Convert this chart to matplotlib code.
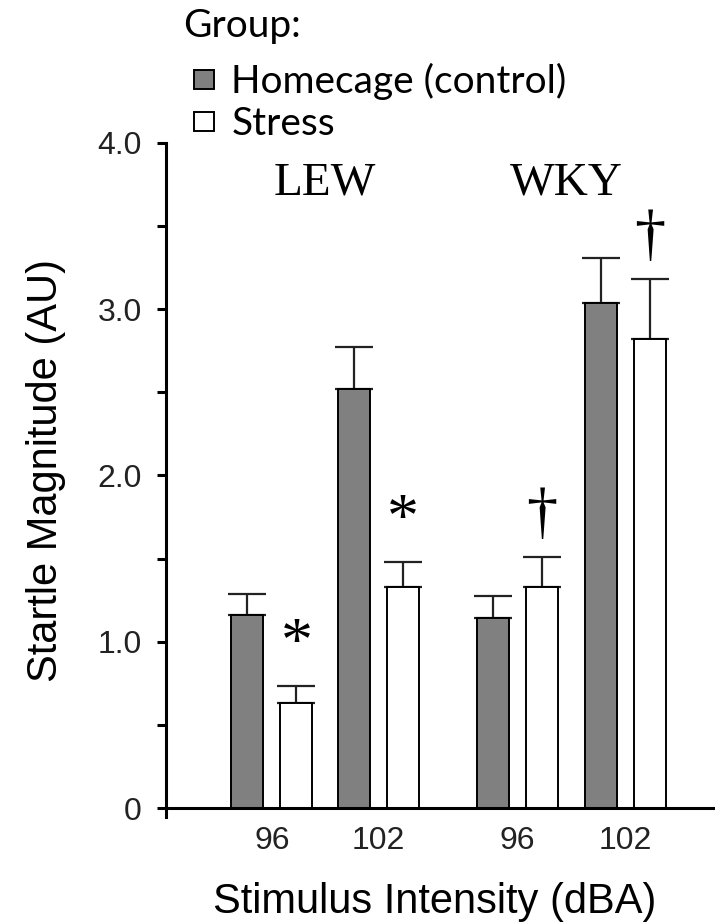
import matplotlib
matplotlib.use("Agg")
import matplotlib.pyplot as plt
import numpy as np

# data
strains = ["LEW", "WKY"]
intensities = ["96", "102", "96", "102"]
homecage = [1.16, 2.52, 1.14, 3.04]
homecage_err = [0.13, 0.25, 0.135, 0.27]
stress = [0.63, 1.33, 1.33, 2.82]
stress_err = [0.105, 0.15, 0.18, 0.36]
stress_marks = ["*", "*", "\u2020", "\u2020"]

pair_pos = np.array([0.0, 3.33, 7.66, 11.03])
off = 0.766
width = 1.0

fig = plt.figure(figsize=(7.15, 9.22), dpi=100)
ax = fig.add_axes([166/715, 114/922, 549/715, 665/922])

b1 = ax.bar(pair_pos - off, homecage, width, color="#808080", edgecolor="black",
            linewidth=1.4, label="Homecage (control)", zorder=2)
b2 = ax.bar(pair_pos + off, stress, width, color="white", edgecolor="black",
            linewidth=1.4, label="Stress", zorder=2)
ax.errorbar(pair_pos - off, homecage, yerr=[np.zeros(4), homecage_err], fmt="none",
            ecolor="#222222", elinewidth=1.6, capsize=14, capthick=1.6, zorder=1)
ax.errorbar(pair_pos + off, stress, yerr=[np.zeros(4), stress_err], fmt="none",
            ecolor="#222222", elinewidth=1.6, capsize=14, capthick=1.6, zorder=1)

for x, y, e, m in zip(pair_pos + off, stress, stress_err, stress_marks):
    if m == "*":
        ax.text(x, y + e + 0.15, m, ha="center", va="baseline",
                family="Liberation Serif", fontsize=46)
    else:
        ax.text(x, y + e + 0.15, m, ha="center", va="baseline",
                family="Liberation Serif", fontsize=45)

ax.text(np.mean(pair_pos[0:2]), 3.76, strains[0], ha="center", va="center",
        family="Liberation Serif", fontsize=34)
ax.text(np.mean(pair_pos[2:4]) - 0.15, 3.76, strains[1], ha="center", va="center",
        family="Liberation Serif", fontsize=34)

ax.set_xlim(-3.31, 13.84)
ax.set_ylim(0, 4)
ax.set_xticks(pair_pos)
ax.set_xticklabels(intensities, family="Liberation Sans", fontsize=23, color="#222222")
ax.set_yticks([0, 1, 2, 3, 4])
ax.set_yticklabels(["0", "1.0", "2.0", "3.0", "4.0"], family="Liberation Sans",
                   fontsize=23, color="#222222")
ax.set_yticks(np.arange(0.5, 4, 1.0), minor=True)
ax.tick_params(axis="y", which="both", direction="out", length=6.5, width=2.2, pad=11)
ax.tick_params(axis="x", length=0, pad=13)

for s in ["top", "right"]:
    ax.spines[s].set_visible(False)
ax.spines["left"].set_linewidth(2.2)
ax.spines["bottom"].set_linewidth(2.2)
ax.spines["left"].set_bounds(-0.055, 4)

ax.set_ylabel("Startle Magnitude (AU)", family="Liberation Sans", fontsize=30)
ax.yaxis.set_label_coords(-0.218, 0.508)
ax.yaxis.label.set_verticalalignment("center")
ax.set_xlabel("Stimulus Intensity (dBA)", family="Liberation Sans", fontsize=30)
ax.xaxis.set_label_coords(0.49, -0.142)
ax.xaxis.label.set_verticalalignment("center")

fig.text(183/715, 1 - 37/922, "Group:", family="Lato", fontsize=28, va="baseline", ha="left")
leg = fig.legend(handles=[b1, b2], loc="upper left",
                 bbox_to_anchor=(171/715, 1 - 40/922), frameon=False,
                 prop={"family": "Lato", "size": 28},
                 handlelength=0.51, handleheight=0.36, handletextpad=0.44,
                 labelspacing=0.15, borderpad=0.1)

fig.savefig("out.png", dpi=100)
